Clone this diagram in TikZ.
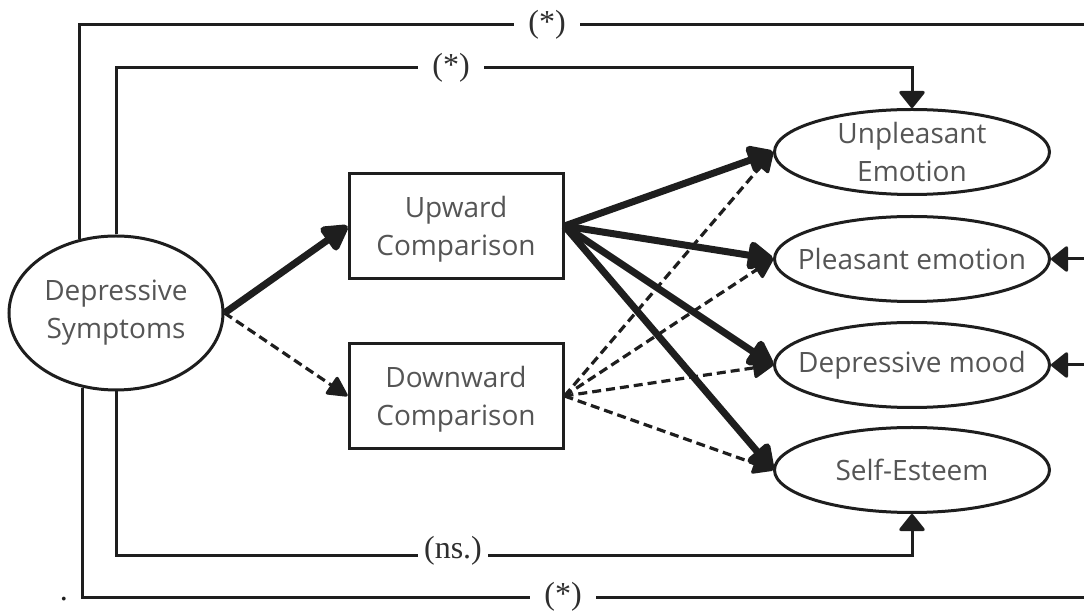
\documentclass[tikz,border=0pt]{standalone}
\usepackage{fontspec}
\setmainfont{Open Sans}
\newfontfamily\labelfont{Liberation Serif}
\usetikzlibrary{arrows.meta,shapes.geometric}
\definecolor{ink}{HTML}{1E1E1E}
\definecolor{txt}{HTML}{555555}
\definecolor{lbl}{HTML}{2E2E2E}

\begin{document}
\begin{tikzpicture}[x=0.5pt,y=-0.5pt,
  every node/.style={text=txt,font=\fontsize{14}{19}\selectfont,align=center},
  oval/.style={draw=ink,line width=1.5pt,ellipse,inner sep=0pt},
  predictor/.style={oval,minimum width=107pt,minimum height=77pt},
  outcome/.style={oval,minimum width=137.5pt,minimum height=42.5pt},
  mediator/.style={draw=ink,line width=1.5pt,rectangle,inner sep=0pt,
    minimum width=107pt,minimum height=52.5pt},
  link/.style={draw=ink,line width=1.5pt},
  linkarrow/.style={link,-{Triangle[length=9pt,width=14pt,round]}},
  strong/.style={draw=ink,line width=3.5pt,-{Triangle[length=14.5pt,width=15.5pt,round]}},
  weak/.style={draw=ink,line width=1.6pt,dash pattern=on 4.5pt off 2.5pt,
    -{Triangle[length=11pt,width=11pt,round]}},
  pathlabel/.style={fill=white,text=lbl,font=\labelfont\fontsize{16}{16}\selectfont,
    inner xsep=7pt,inner ysep=1pt}]

\useasboundingbox (0,0) rectangle (1084,614);

% predictor, mediators and outcomes (oval sizes fixed, text set as a centred label)
\node[predictor,label=center:{Depressive\\Symptoms}] (ds) at (116,313) {};
\node[mediator,label={[yshift=-1.5pt]center:{Upward\\Comparison}}] (up) at (456,226) {};
\node[mediator,label={[yshift=-1.5pt]center:{Downward\\Comparison}}] (down) at (456,396) {};
\node[outcome,label=center:{Unpleasant\\Emotion}] (ue) at (912,152) {};
\node[outcome,label=center:{Pleasant emotion}] (pe) at (912,259) {};
\node[outcome,label=center:{Depressive mood}] (dm) at (912,365) {};
\node[outcome,label=center:{Self-Esteem}] (se) at (912,470) {};

% reference heights of the direct paths and the right rim
\coordinate (outerTop) at (0,25);
\coordinate (innerTop) at (0,68);
\coordinate (innerBot) at (0,556);
\coordinate (outerBot) at (0,598);
\coordinate (rim) at (1084,0);

% direct paths around the mediators
\draw[link] (ds.116) |- (rim |- outerTop);
\draw[linkarrow] (ds.north) |- (ue.north |- innerTop) -- (ue.north);
\draw[linkarrow] (ds.south) |- (se.south |- innerBot) -- (se.south);
\draw[link] (ds.246) |- (rim |- outerBot);
\draw[linkarrow] (pe.east -| rim) -- (pe.east);
\draw[linkarrow] (dm.east -| rim) -- (dm.east);

\node[pathlabel] (l1) at (547,25) {(*)};
\node[pathlabel] (l2) at (451,68) {(*)};
\node[pathlabel,inner xsep=3pt] (l3) at (453,551) {(ns.)};
\node[pathlabel] (l4) at (563,597) {(*)};
\node[text=ink,font=\labelfont\fontsize{16}{16}\selectfont,anchor=base,inner sep=0pt] (dot) at (64,601) {.};

% predictor to mediators
\draw[weak] (ds.east) -- (down.west);
\draw[strong] (ds.east) -- (up.west);

% mediators to outcomes
\foreach \t in {ue,pe,dm,se}{
  \draw[weak] (down.east) -- (\t.west);
}
\foreach \t in {ue,pe,dm,se}{
  \draw[strong] (up.east) -- (\t.west);
}
\end{tikzpicture}
\end{document}
